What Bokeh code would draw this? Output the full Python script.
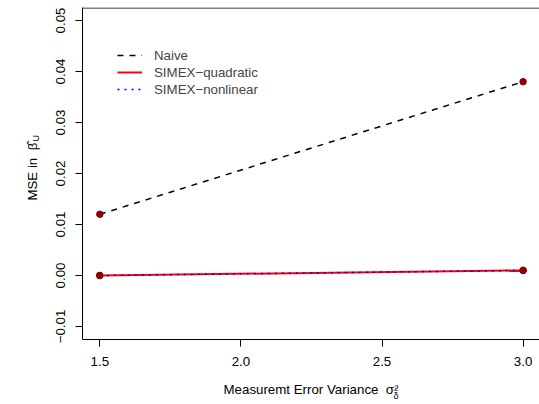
from bokeh.plotting import figure
from bokeh.models import (Range1d, FixedTicker, Legend, LegendItem, Label, Span)
from bokeh.embed import file_html
from bokeh.resources import INLINE
import math

# ---- data ----
x_vals = [1.5, 3.0]
naive = [0.012, 0.038]
simex_quadratic = [0.0, 0.001]
simex_nonlinear = [0.0, 0.001]

x_ticks = [1.5, 2.0, 2.5, 3.0]
x_tick_labels = ["1.5", "2.0", "2.5", "3.0"]
y_ticks = [-0.01, 0.0, 0.01, 0.02, 0.03, 0.04, 0.05]
y_tick_labels = ["\u22120.01", "0.00", "0.01", "0.02", "0.03", "0.04", "0.05"]

FONT = "Liberation Sans"
FS = "13.3px"
NB = "\u00a0"

# pixel <-> data helpers (layout only)
def xd(px):
    return 1.5 + (px - 99.3) / 282.2

def yd(py):
    return (275.0 - py) / 5100.0

x_start, x_end = xd(82), xd(539)
y_start, y_end = yd(339), yd(7)

p = figure(width=539, height=404, output_backend="svg", toolbar_location=None,
           x_range=Range1d(x_start, x_end), y_range=Range1d(y_start, y_end),
           min_border_left=82, min_border_right=0, min_border_top=7,
           min_border_bottom=65)
p.outline_line_color = None
p.xgrid.visible = False
p.ygrid.visible = False
p.background_fill_color = "white"
p.border_fill_color = "white"

# axes
for ax in (p.xaxis[0], p.yaxis[0]):
    ax.axis_line_color = "black"
    ax.axis_line_width = 1
    ax.major_tick_line_color = "black"
    ax.major_tick_out = 7
    ax.major_tick_in = 0
    ax.minor_tick_line_color = None
    ax.major_label_text_font = FONT
    ax.major_label_text_font_size = FS
    ax.major_label_text_color = "black"
    ax.axis_label_text_font = FONT
    ax.axis_label_text_font_size = FS
    ax.axis_label_text_font_style = "normal"
    ax.axis_label_text_color = "black"

p.xaxis[0].ticker = FixedTicker(ticks=x_ticks)
p.xaxis[0].major_label_overrides = {t: l for t, l in zip(x_ticks, x_tick_labels)}
p.xaxis[0].major_label_standoff = 10
p.xaxis[0].axis_label = "Measuremt Error Variance" + NB * 2 + "\u03c3\u00b2"
p.xaxis[0].axis_label_standoff = 13
p.yaxis[0].ticker = FixedTicker(ticks=y_ticks)
p.yaxis[0].major_label_overrides = {t: l for t, l in zip(y_ticks, y_tick_labels)}
p.yaxis[0].major_label_orientation = "vertical"
p.yaxis[0].major_label_standoff = 11
p.yaxis[0].axis_label = NB + "MSE in" + NB * 2 + "\u03b2\u0302"
p.yaxis[0].axis_label_standoff = 13

# top border line of the box
p.add_layout(Span(location=yd(7.5), dimension="width",
                  line_color="black", line_width=1))

# lines
r_naive = p.line(x_vals, naive, line_color="black", line_width=1.5, line_dash="6 6")
r_quad = p.line(x_vals, simex_quadratic, line_color="red", line_width=2)
r_nonlin = p.line(x_vals, simex_nonlinear, line_color="blue", line_width=1.5,
                  line_dash="2 5")

# points
for ys in (naive, simex_quadratic, simex_nonlinear):
    p.scatter(x_vals, ys, size=6.5, fill_color="#8B0000", line_color="#8B0000")

legend = Legend(items=[
    LegendItem(label="Naive", renderers=[r_naive]),
    LegendItem(label="SIMEX\u2212quadratic", renderers=[r_quad]),
    LegendItem(label="SIMEX\u2212nonlinear", renderers=[r_nonlin]),
], location=(35, 242))
legend.border_line_color = None
legend.background_fill_alpha = 0
legend.padding = 0
legend.margin = 0
legend.spacing = 1
legend.glyph_width = 25
legend.glyph_height = 16
legend.label_height = 16
legend.label_standoff = 12
legend.label_text_font = FONT
legend.label_text_font_size = FS
legend.label_text_baseline = "middle"
p.add_layout(legend)

# subscripts (placed in the roomy left panel so they are not clipped)
p.add_layout(Label(x=xd(393), y=yd(395.5), x_units="data", y_units="data",
                   text="\u03b4", text_font=FONT, text_font_size="9px",
                   text_color="black", text_align="left",
                   text_baseline="middle"), "left")
p.add_layout(Label(x=xd(35.5), y=yd(141), x_units="data", y_units="data",
                   text="U", angle=math.pi / 2, text_font=FONT,
                   text_font_size="9px", text_color="black",
                   text_align="left", text_baseline="middle"), "left")

open("out.html", "w").write(file_html(p, INLINE))
